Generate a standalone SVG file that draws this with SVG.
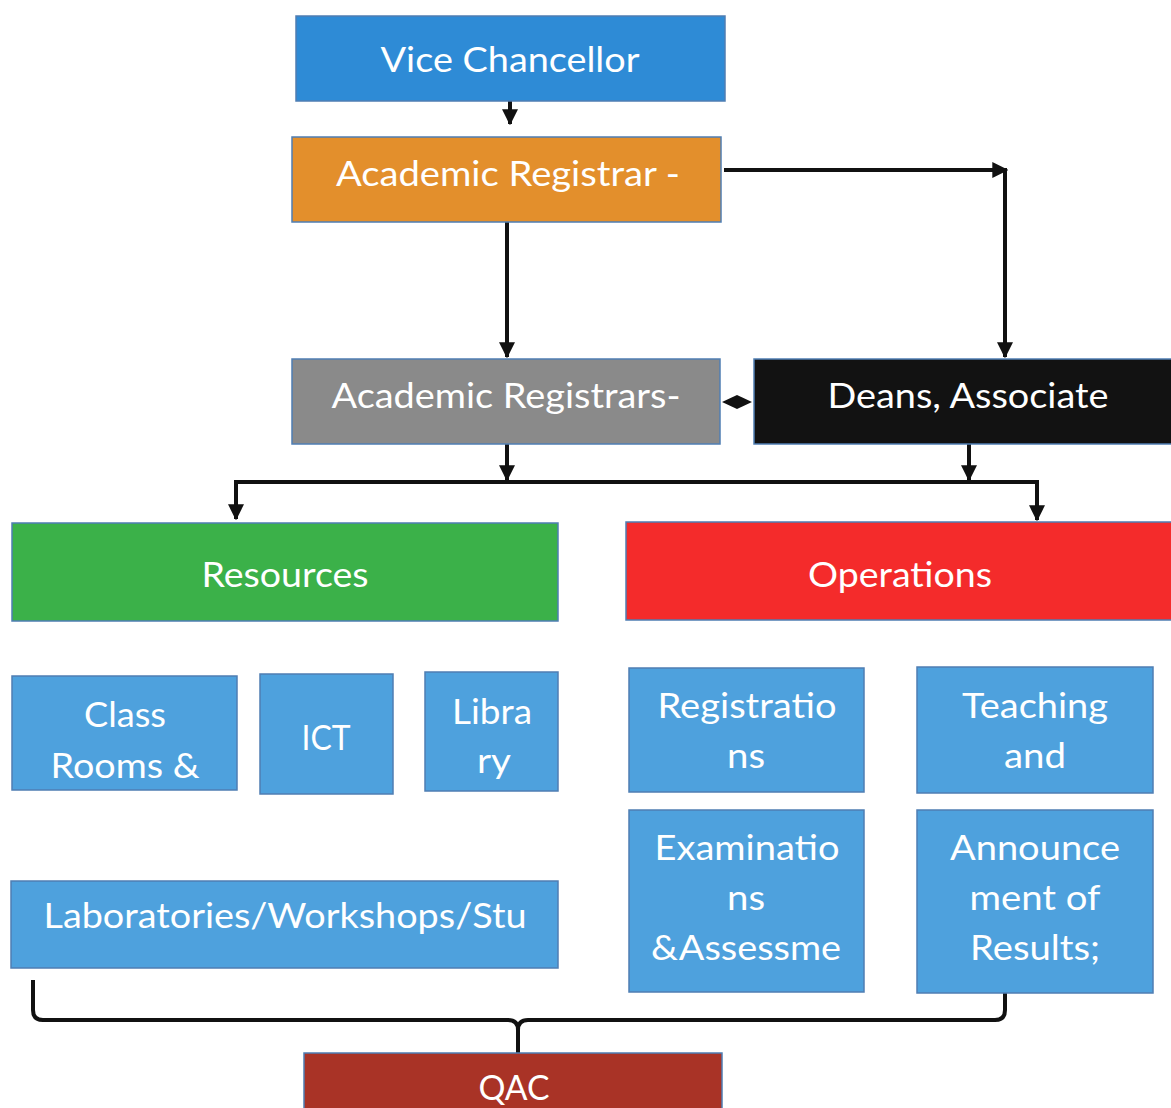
<svg xmlns="http://www.w3.org/2000/svg" width="1171" height="1108" viewBox="0 0 1171 1108">
  <style>
    .box { stroke: #4f7eb3; stroke-width: 1.5; }
    .lbl { fill: #ffffff; font-family: Lato, "Open Sans", "Liberation Sans", sans-serif; font-size: 34px; text-anchor: middle; }
    .wire { fill: none; stroke: #111111; stroke-width: 4; }
  </style>
  <defs>
    <marker id="arrow" viewBox="0 0 12 12" refX="11" refY="6" markerWidth="4" markerHeight="4" orient="auto" markerUnits="strokeWidth">
      <path d="M0,0 L12,6 L0,12 Z" fill="#111111"/>
    </marker>
  </defs>

  <rect width="1171" height="1108" fill="#ffffff"/>

  <!-- connectors -->
  <g id="connectors">
    <path class="wire" d="M510,101 V124" marker-end="url(#arrow)"/>
    <path class="wire" d="M507,222 V357" marker-end="url(#arrow)"/>
    <path class="wire" d="M724,170 H1007" marker-end="url(#arrow)"/>
    <path class="wire" d="M1005,168 V357" marker-end="url(#arrow)"/>
    <path d="M722,402 L737,395 L752,402 L737,409 Z" fill="#111111"/>
    <path class="wire" d="M507,444 V480" marker-end="url(#arrow)"/>
    <path class="wire" d="M969,444 V480" marker-end="url(#arrow)"/>
    <path class="wire" d="M234,482 H1039"/>
    <path class="wire" d="M236,480 V519" marker-end="url(#arrow)"/>
    <path class="wire" d="M1037,480 V520" marker-end="url(#arrow)"/>
    <!-- brace joining the lower boxes to QAC -->
    <path class="wire" d="M33,980 V1010 Q33,1020 43,1020 H508 Q518,1020 518,1030 V1054 M518,1030 Q518,1020 528,1020 H995 Q1005,1020 1005,1010 V982"/>
  </g>

  <g id="vice-chancellor">
    <rect class="box" x="296" y="16" width="429" height="85" fill="#2e8bd6"/>
    <text class="lbl" x="510" y="72" textLength="259" lengthAdjust="spacingAndGlyphs">Vice Chancellor</text>
  </g>

  <g id="academic-registrar">
    <rect class="box" x="292" y="137" width="429" height="85" fill="#e38f2c"/>
    <text class="lbl" x="508" y="186" textLength="344" lengthAdjust="spacingAndGlyphs">Academic Registrar -</text>
  </g>

  <g id="academic-registrars">
    <rect class="box" x="292" y="359" width="428" height="85" fill="#8a8a8a"/>
    <text class="lbl" x="506" y="408" textLength="349" lengthAdjust="spacingAndGlyphs">Academic Registrars-</text>
  </g>

  <g id="deans">
    <rect class="box" x="754" y="359" width="425" height="85" fill="#121212"/>
    <text class="lbl" x="968" y="408" textLength="281" lengthAdjust="spacingAndGlyphs">Deans, Associate</text>
  </g>

  <g id="resources">
    <rect class="box" x="12" y="523" width="546" height="98" fill="#3bb149"/>
    <text class="lbl" x="285" y="587" textLength="167" lengthAdjust="spacingAndGlyphs">Resources</text>
  </g>

  <g id="operations">
    <rect class="box" x="626" y="522" width="553" height="98" fill="#f42b2b"/>
    <text class="lbl" x="900" y="587" textLength="184" lengthAdjust="spacingAndGlyphs">Operations</text>
  </g>

  <g id="class-rooms">
    <rect class="box" x="12" y="676" width="225" height="114" fill="#4ea1dd"/>
    <text class="lbl" x="125" y="727" textLength="82" lengthAdjust="spacingAndGlyphs">Class</text>
    <text class="lbl" x="125" y="778" textLength="149" lengthAdjust="spacingAndGlyphs">Rooms &amp;</text>
  </g>

  <g id="ict">
    <rect class="box" x="260" y="674" width="133" height="120" fill="#4ea1dd"/>
    <text class="lbl" x="326" y="750" textLength="49" lengthAdjust="spacingAndGlyphs">ICT</text>
  </g>

  <g id="library">
    <rect class="box" x="425" y="672" width="133" height="119" fill="#4ea1dd"/>
    <text class="lbl" x="492" y="724" textLength="80" lengthAdjust="spacingAndGlyphs">Libra</text>
    <text class="lbl" x="494" y="773" textLength="34" lengthAdjust="spacingAndGlyphs">ry</text>
  </g>

  <g id="laboratories">
    <rect class="box" x="11" y="881" width="547" height="87" fill="#4ea1dd"/>
    <text class="lbl" x="285" y="928" textLength="483" lengthAdjust="spacingAndGlyphs">Laboratories/Workshops/Stu</text>
  </g>

  <g id="registrations">
    <rect class="box" x="629" y="668" width="235" height="124" fill="#4ea1dd"/>
    <text class="lbl" x="747" y="718" textLength="179" lengthAdjust="spacingAndGlyphs">Registratio</text>
    <text class="lbl" x="746" y="768" textLength="38" lengthAdjust="spacingAndGlyphs">ns</text>
  </g>

  <g id="teaching">
    <rect class="box" x="917" y="667" width="236" height="126" fill="#4ea1dd"/>
    <text class="lbl" x="1035" y="718" textLength="146" lengthAdjust="spacingAndGlyphs">Teaching</text>
    <text class="lbl" x="1035" y="768" textLength="62" lengthAdjust="spacingAndGlyphs">and</text>
  </g>

  <g id="examinations">
    <rect class="box" x="629" y="810" width="235" height="182" fill="#4ea1dd"/>
    <text class="lbl" x="747" y="860" textLength="185" lengthAdjust="spacingAndGlyphs">Examinatio</text>
    <text class="lbl" x="746" y="910" textLength="38" lengthAdjust="spacingAndGlyphs">ns</text>
    <text class="lbl" x="746" y="960" textLength="190" lengthAdjust="spacingAndGlyphs">&amp;Assessme</text>
  </g>

  <g id="announcement">
    <rect class="box" x="917" y="810" width="236" height="183" fill="#4ea1dd"/>
    <text class="lbl" x="1035" y="860" textLength="170" lengthAdjust="spacingAndGlyphs">Announce</text>
    <text class="lbl" x="1035" y="910" textLength="131" lengthAdjust="spacingAndGlyphs">ment of</text>
    <text class="lbl" x="1035" y="960" textLength="130" lengthAdjust="spacingAndGlyphs">Results;</text>
  </g>

  <g id="qac">
    <rect class="box" x="304" y="1053" width="418" height="70" fill="#a93326"/>
    <text class="lbl" x="514" y="1100" textLength="71" lengthAdjust="spacingAndGlyphs">QAC</text>
  </g>
</svg>
